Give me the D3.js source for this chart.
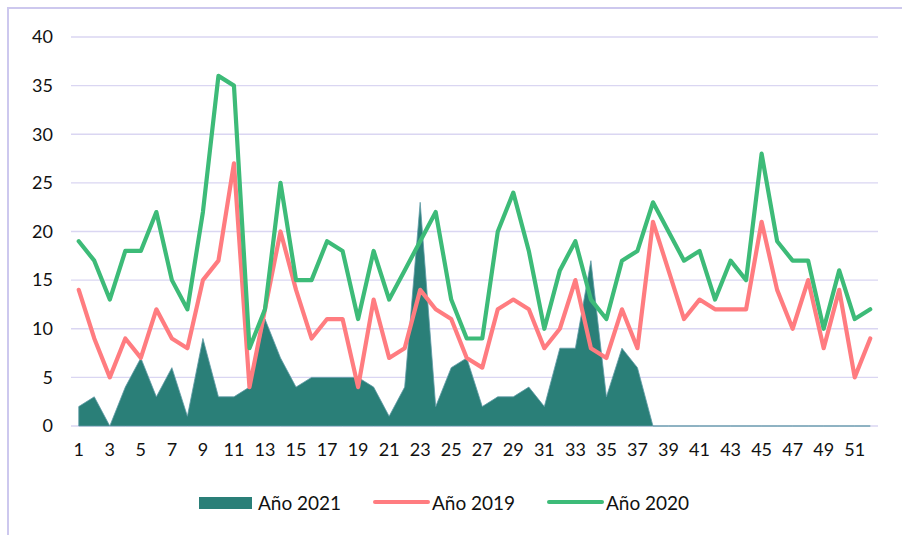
<!DOCTYPE html>
<html>
<head>
<meta charset="utf-8">
<script src="https://cdn.jsdelivr.net/npm/d3@7"></script>
<style>
	body { margin: 0; background: #fff; }
	text { font-family: "Lato", "Open Sans", sans-serif; fill: #111; }
</style>
</head>
<body>
<svg id="chart" width="902" height="535"></svg>
<script>
// semanas epidemiologicas 1..52
var weeks = d3.range(1, 53);
var yTicks = [0, 5, 10, 15, 20, 25, 30, 35, 40];

var anio2021 = [2, 3, 0, 4, 7, 3, 6, 1, 9, 3, 3, 4, 11, 7, 4, 5, 5, 5, 5, 4,
	1, 4, 23, 2, 6, 7, 2, 3, 3, 4, 2, 8, 8, 17, 3, 8, 6, 0,
	0, 0, 0, 0, 0, 0, 0, 0, 0, 0, 0, 0, 0, 0];
var anio2019 = [14, 9, 5, 9, 7, 12, 9, 8, 15, 17, 27, 4, 12, 20, 14, 9, 11, 11, 4, 13,
	7, 8, 14, 12, 11, 7, 6, 12, 13, 12, 8, 10, 15, 8, 7, 12, 8, 21, 16, 11,
	13, 12, 12, 12, 21, 14, 10, 15, 8, 14, 5, 9];
var anio2020 = [19, 17, 13, 18, 18, 22, 15, 12, 22, 36, 35, 8, 12, 25, 15, 15, 19, 18, 11, 18,
	13, 16, 19, 22, 13, 9, 9, 20, 24, 18, 10, 16, 19, 13, 11, 17, 18, 23, 20, 17,
	18, 13, 17, 15, 28, 19, 17, 17, 10, 16, 11, 12];

var legendItems = [
	{name: "Año 2021", color: "#2a7f78", type: "area"},
	{name: "Año 2019", color: "#ff7c80", type: "line"},
	{name: "Año 2020", color: "#3dbb78", type: "line"}
];

var svg = d3.select("#chart");

// marco del grafico
svg.append("rect")
	.attr("x", 8)
	.attr("y", 8)
	.attr("width", 900)
	.attr("height", 540)
	.attr("fill", "none")
	.attr("stroke", "#cdc8ee")
	.attr("stroke-width", 2);

var x = d3.scaleBand()
	.domain(weeks)
	.range([71, 878]);
var y = d3.scaleLinear()
	.domain([0, 40])
	.range([426, 37]);

function cx(w) { return x(w) + x.bandwidth() / 2; }

// gridlines
svg.append("g")
	.selectAll("line")
	.data(yTicks)
	.enter()
	.append("line")
	.attr("x1", 71)
	.attr("x2", 878)
	.attr("y1", function(d) { return y(d); })
	.attr("y2", function(d) { return y(d); })
	.attr("stroke", "#dad6f2")
	.attr("stroke-width", 1.3);

// eje y
var yAxis = svg.append("g")
	.attr("transform", "translate(53,0)")
	.call(d3.axisLeft(y).tickValues(yTicks).tickSize(0).tickPadding(0));
yAxis.select(".domain").remove();
yAxis.selectAll("text")
	.style("font-size", "18px")
	.style("font-family", "Lato, sans-serif")
	.attr("fill", "#111");

// area 2021
var area = d3.area()
	.x(function(d, i) { return cx(weeks[i]); })
	.y0(y(0))
	.y1(function(d) { return y(d); });
svg.append("path")
	.datum(anio2021)
	.attr("d", area)
	.attr("fill", legendItems[0].color)
	.attr("stroke", "#5f9aa6")
	.attr("stroke-width", 0.8);

var line = d3.line()
	.x(function(d, i) { return cx(weeks[i]); })
	.y(function(d) { return y(d); });

svg.append("path")
	.datum(anio2019)
	.attr("d", line)
	.attr("fill", "none")
	.attr("stroke", legendItems[1].color)
	.attr("stroke-width", 4.2)
	.attr("stroke-linejoin", "round")
	.attr("stroke-linecap", "round");

svg.append("path")
	.datum(anio2020)
	.attr("d", line)
	.attr("fill", "none")
	.attr("stroke", legendItems[2].color)
	.attr("stroke-width", 4.2)
	.attr("stroke-linejoin", "round")
	.attr("stroke-linecap", "round");

// eje x, solo semanas impares
var xAxis = svg.append("g")
	.attr("transform", "translate(0," + 442 + ")")
	.call(d3.axisBottom(x)
		.tickValues(weeks.filter(function(w) { return w % 2 == 1; }))
		.tickSize(0)
		.tickPadding(0));
xAxis.select(".domain").remove();
xAxis.selectAll("text")
	.attr("dy", "0.75em")
	.style("font-size", "18px")
	.style("font-family", "Lato, sans-serif")
	.attr("fill", "#111");

// leyenda
var legendX = [199, 373, 547];
var legend = svg.selectAll(".legend-item")
	.data(legendItems)
	.enter()
	.append("g")
	.classed("legend-item", true)
	.attr("transform", function(d, i) {
		return "translate(" + legendX[i] + "," + 503 + ")";
	});

legend.filter(function(d) { return d.type == "area"; })
	.append("rect")
	.attr("x", 0)
	.attr("y", -6)
	.attr("width", 53)
	.attr("height", 12)
	.attr("fill", function(d) { return d.color; });

legend.filter(function(d) { return d.type == "line"; })
	.append("line")
	.attr("x1", 2)
	.attr("x2", 55)
	.attr("y1", -1)
	.attr("y2", -1)
	.attr("stroke", function(d) { return d.color; })
	.attr("stroke-width", 4)
	.attr("stroke-linecap", "round");

legend.append("text")
	.attr("x", 59)
	.attr("y", 6.5)
	.style("font-size", "19px")
	.text(function(d) { return d.name; });
</script>
</body>
</html>
